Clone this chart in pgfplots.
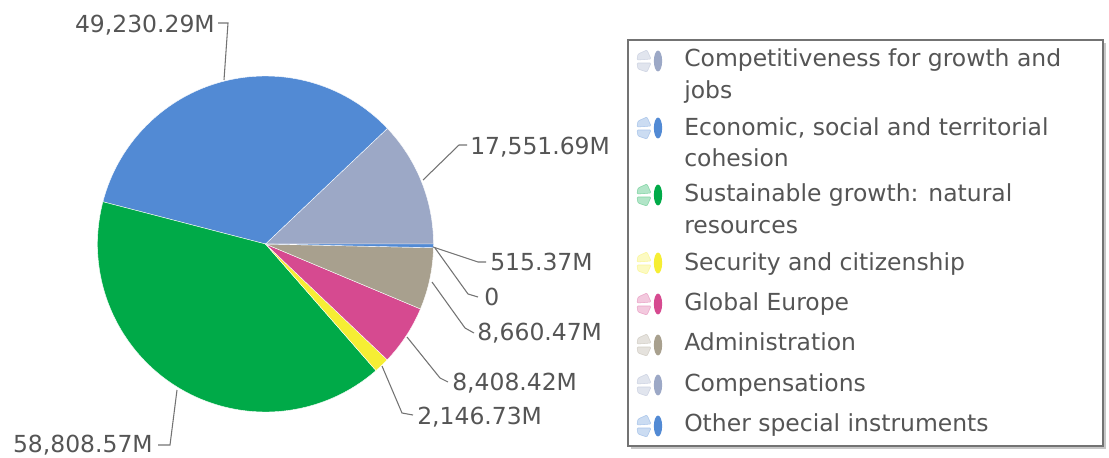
\documentclass[border=0pt]{standalone}
\usepackage{pgfplots}
\pgfplotsset{compat=1.18}
\usepackage{fontspec}
\setmainfont{DejaVu Sans}
\definecolor{cA}{RGB}{156,168,198}
\definecolor{cB}{RGB}{82,138,212}
\definecolor{cC}{RGB}{0,170,72}
\definecolor{cD}{RGB}{246,238,52}
\definecolor{cE}{RGB}{214,74,144}
\definecolor{cF}{RGB}{168,160,142}
\definecolor{cG}{RGB}{156,168,198}
\definecolor{cH}{RGB}{82,138,212}
\definecolor{txt}{RGB}{85,85,85}
\definecolor{lead}{RGB}{115,115,115}
% data values (millions)
\def\vA{17551.69}
\def\vB{49230.29}
\def\vC{58808.57}
\def\vD{2146.73}
\def\vE{8408.42}
\def\vF{8660.47}
\def\vG{0}
\def\vH{515.37}
\edef\tot{\fpeval{\vA+\vB+\vC+\vD+\vE+\vF+\vG+\vH}}
\edef\eA{\fpeval{360*\vA/\tot}}
\edef\eB{\fpeval{\eA+360*\vB/\tot}}
\edef\eC{\fpeval{\eB+360*\vC/\tot}}
\edef\eD{\fpeval{\eC+360*\vD/\tot}}
\edef\eE{\fpeval{\eD+360*\vE/\tot}}
\edef\eF{\fpeval{\eE+360*\vF/\tot}}
\edef\eG{\fpeval{\eF+360*\vG/\tot}}
\edef\eH{\fpeval{\eG+360*\vH/\tot}}
\newcommand{\slice}[3]{% start, end, color
  \fill[#3, draw=white, line width=0.3pt] (axis cs:265.5,244) -- ++(#1:126pt) arc[start angle=#1, end angle=#2, radius=126pt] -- cycle;}
\newcommand{\icon}[3]{% x, y, color
  \fill[#3!30, draw=#3!50, line width=0.4pt, rounded corners=0.8pt] (axis cs:#1-12,#2-7) -- (axis cs:#1-3,#2-11) -- (axis cs:#1+1,#2-2) -- (axis cs:#1-13,#2-1) -- cycle;
  \fill[#3!30, draw=#3!50, line width=0.4pt, rounded corners=0.8pt] (axis cs:#1-13,#2+2) -- (axis cs:#1+1,#2+2) -- (axis cs:#1-3,#2+11) -- (axis cs:#1-12,#2+8) -- cycle;
  \fill[#3] (axis cs:#1+8,#2) ellipse[x radius=3.1pt, y radius=7.8pt];}
\newcommand{\fs}{\fontsize{17.6}{21}\selectfont}
\begin{document}
\begin{tikzpicture}
\begin{axis}[x=0.75pt, y=0.75pt, xmin=0, xmax=1109, ymin=0, ymax=457, y dir=reverse,
  hide axis, scale only axis, clip=false]
\path (axis cs:0,0) rectangle (axis cs:1109,457);
\slice{0}{\eA}{cA}
\slice{\eA}{\eB}{cB}
\slice{\eB}{\eC}{cC}
\slice{\eC}{\eD}{cD}
\slice{\eD}{\eE}{cE}
\slice{\eE}{\eF}{cF}
\slice{\eG}{\eH}{cH}
% leader lines
\begin{scope}[lead, line width=0.8pt]
\draw (axis cs:224,80) -- (axis cs:228,23) -- (axis cs:218,23);
\draw (axis cs:423,180) -- (axis cs:459,145) -- (axis cs:467,145);
\draw (axis cs:433,247) -- (axis cs:478,262) -- (axis cs:486,262);
\draw (axis cs:435,248) -- (axis cs:468,294) -- (axis cs:478,297);
\draw (axis cs:432,282) -- (axis cs:465,328) -- (axis cs:474,333);
\draw (axis cs:407,337) -- (axis cs:440,378) -- (axis cs:448,382);
\draw (axis cs:382,366) -- (axis cs:402,413) -- (axis cs:413,415);
\draw (axis cs:177,390) -- (axis cs:170,445) -- (axis cs:158,445);
\end{scope}
\begin{scope}[every node/.style={text=txt, inner sep=0pt, font=\fs}]
\node[anchor=base east] at (axis cs:215,32.5) {49,230.29M};
\node[anchor=base west] at (axis cs:470,154) {17,551.69M};
\node[anchor=base west] at (axis cs:490,270) {515.37M};
\node[anchor=base west] at (axis cs:484,305) {0};
\node[anchor=base west] at (axis cs:477,340.5) {8,660.47M};
\node[anchor=base west] at (axis cs:452,390) {8,408.42M};
\node[anchor=base west] at (axis cs:417,424) {2,146.73M};
\node[anchor=base east] at (axis cs:153,452.5) {58,808.57M};
\end{scope}
% legend box
\fill[black!22] (axis cs:631,43) rectangle (axis cs:1106,449);
\filldraw[fill=white, draw=black!55, line width=0.9pt] (axis cs:628,40) rectangle (axis cs:1103,446);
\icon{650}{61}{cA}
\icon{650}{128}{cB}
\icon{650}{195}{cC}
\icon{650}{263}{cD}
\icon{650}{304}{cE}
\icon{650}{345}{cF}
\icon{650}{385}{cG}
\icon{650}{426}{cH}
\begin{scope}[every node/.style={text=txt, inner sep=0pt, anchor=base west, font=\fs}]
\node at (axis cs:684,66) {Competitiveness for growth and};
\node at (axis cs:684,98.3) {jobs};
\node at (axis cs:684,135) {Economic, social and territorial};
\node at (axis cs:684,166.7) {cohesion};
\node at (axis cs:684,201.7) {Sustainable growth: natural};
\node at (axis cs:684,233.3) {resources};
\node at (axis cs:684,270) {Security and citizenship};
\node at (axis cs:684,310) {Global Europe};
\node at (axis cs:684,350.7) {Administration};
\node at (axis cs:684,391.7) {Compensations};
\node at (axis cs:684,431.7) {Other special instruments};
\end{scope}
\end{axis}
\end{tikzpicture}
\end{document}
